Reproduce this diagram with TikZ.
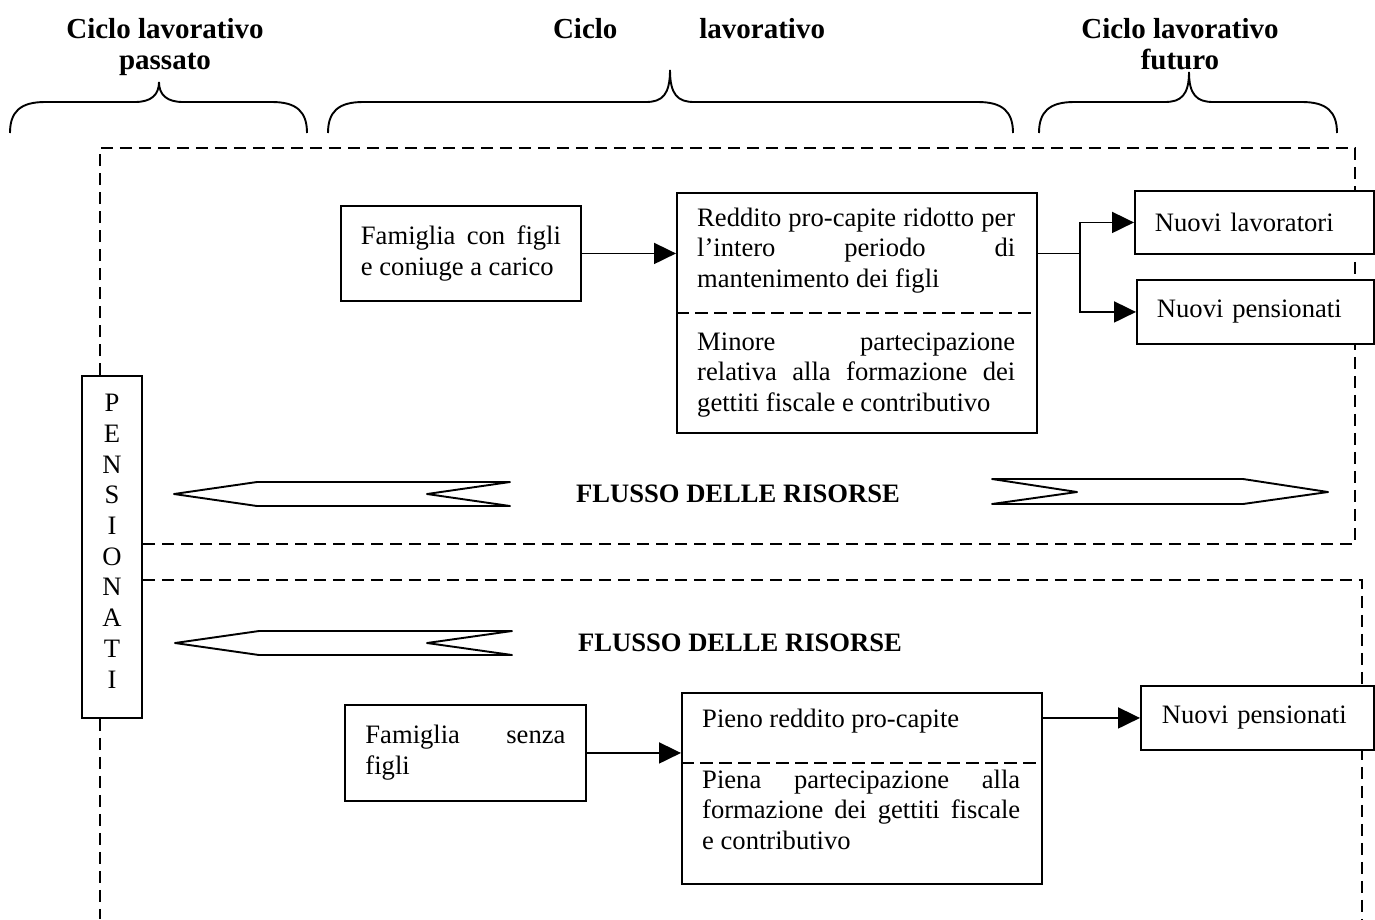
\documentclass[tikz,border=0pt]{standalone}
\usepackage{fontspec}
\setmainfont{Liberation Serif}
\usetikzlibrary{arrows.meta}
\hyphenpenalty=10000
\exhyphenpenalty=10000
\tolerance=9999
\newcommand{\graffa}[4]{\draw[graffa] (#1,133) .. controls (#1,112) and (#1+10,102) .. (#1+35,102) -- (#2-24,102) .. controls (#2-8,102) and (#2,95) .. (#2,#4) .. controls (#2,95) and (#2+8,102) .. (#2+24,102) -- (#3-35,102) .. controls (#3-10,102) and (#3,112) .. (#3,133);}

\begin{document}
\begin{tikzpicture}[x=1pt,y=-1pt]
                        \tikzstyle{every node}=[font=\fontsize{26.6}{30.7}\selectfont]
                        \tikzstyle{titolo}=[font=\bfseries\fontsize{29}{31}\selectfont, align=center, anchor=base, inner sep=0]
                        \tikzstyle{casella}=[draw, line width=1.9pt, fill=white]
                        \tikzstyle{testo}=[text width=318pt, align=justify, inner sep=0, anchor=base west]
                        \tikzstyle{freccia}=[-{Triangle[length=22pt,width=21pt]}, line width=1.9pt]
                        \tikzstyle{cornice}=[dash pattern=on 12pt off 7pt, line width=1.9pt]
                        \tikzstyle{divisorio}=[dash pattern=on 13pt off 6pt, line width=1.9pt]
                        \tikzstyle{flusso}=[line width=1.9pt, line join=round]
                        \tikzstyle{graffa}=[line width=1.9pt]
                        \useasboundingbox (0,0) rectangle (1375,919);
                        \node[titolo] (passato) at (165,69) {Ciclo lavorativo\\passato};
                        \node[titolo, text width=272pt, align=justify] (presente) at (689,38) {Ciclo\hfill lavorativo};
                        \node[titolo] (futuro) at (1180,69) {Ciclo lavorativo\\futuro};
                        \graffa{10}{159}{307}{82}
                        \graffa{328}{670}{1013}{70}
                        \graffa{1039}{1189}{1337}{72}
                        \node[casella, minimum width=60pt, minimum height=342pt, align=center, inner sep=0] (pens) at (112,547) {P\\E\\N\\S\\I\\O\\N\\A\\T\\I\\[-19pt]};
                        \coordinate (a1) at (100,148);
                        \coordinate (a2) at (1355,148);
                        \coordinate (a3) at (1355,544);
                        \coordinate (b1) at (1362,580);
                        \coordinate (b2) at (1362,919);
                        \draw[cornice] (pens.north -| a1) -- (a1) -- (a2) -- (a3) -- (a3 -| pens.east);
                        \draw[cornice] (b1 -| pens.east) -- (b1) -- (b2);
                        \draw[cornice] (pens.south -| a1) -- (a1 |- b2);
                        \node[casella, text width=200pt, inner xsep=20pt, minimum height=95pt, align=justify, anchor=north west] (fam1) at (340,205) {Famiglia con figli\linebreak e coniuge a carico};
                        \node[casella, minimum width=360pt, minimum height=240pt, anchor=north west] (red1) at (676,192) {};
                        \draw[divisorio] (red1.west) -- (red1.east);
                        \node[testo] (red1a) at (697,226) {Reddito pro-capite ridotto per\linebreak l’intero periodo di\linebreak mantenimento dei figli};
                        \node[testo] (red1b) at (697,350) {Minore partecipazione\linebreak relativa alla formazione dei\linebreak gettiti fiscale e contributivo};
                        \node[casella, text width=199pt, inner xsep=20pt, minimum height=63pt, align=left, anchor=north west] (nl) at (1134,190) {Nuovi lavoratori};
                        \node[casella, text width=197pt, inner xsep=20pt, minimum height=64pt, align=left, anchor=north west] (np) at (1136,279) {Nuovi pensionati};
                        \draw[freccia] (fam1.east) -- (fam1.east -| red1.west);
                        \draw[line width=1.9pt] (red1.east |- fam1.east) -- ++(42,0) coordinate (bivio);
                        \draw[freccia] (bivio) |- (nl.west);
                        \draw[freccia] (bivio) |- (np.west);
                        \draw[flusso] (174,494) -- (257,482) -- (510,482) -- (427,494) -- (510,506) -- (257,506) -- cycle;
                        \draw[flusso] (1328,492) -- (1243,479) -- (992,479) -- (1077,492) -- (992,504) -- (1243,504) -- cycle;
                        \draw[flusso] (175,643) -- (259,631) -- (512,631) -- (427,643) -- (512,655) -- (259,655) -- cycle;
                        \node[font=\bfseries\fontsize{26.6}{30.7}\selectfont] (flusso1) at (738,494) {FLUSSO DELLE RISORSE};
                        \node[font=\bfseries\fontsize{26.6}{30.7}\selectfont] (flusso2) at (740,643) {FLUSSO DELLE RISORSE};
                        \node[casella, text width=200pt, inner xsep=20.5pt, minimum height=96pt, align=justify, anchor=north west] (fam2) at (344,704) {Famiglia senza\linebreak figli};
                        \node[casella, minimum width=360pt, minimum height=191pt, anchor=north west] (pieno) at (681,692) {};
                        \draw[divisorio] (pieno.west |- 0,763) -- (pieno.east |- 0,763);
                        \node[testo] (pienoa) at (702,727) {Pieno reddito pro-capite};
                        \node[testo] (pienob) at (702,788) {Piena partecipazione alla\linebreak formazione dei gettiti fiscale\linebreak e contributivo};
                        \node[casella, text width=191pt, inner xsep=21pt, minimum height=64pt, align=left, anchor=north west] (np2) at (1140,685) {Nuovi pensionati};
                        \draw[freccia] (fam2.east) -- (fam2.east -| pieno.west);
                        \draw[freccia] (np2.west -| pieno.east) -- (np2.west);
\end{tikzpicture}
\end{document}
